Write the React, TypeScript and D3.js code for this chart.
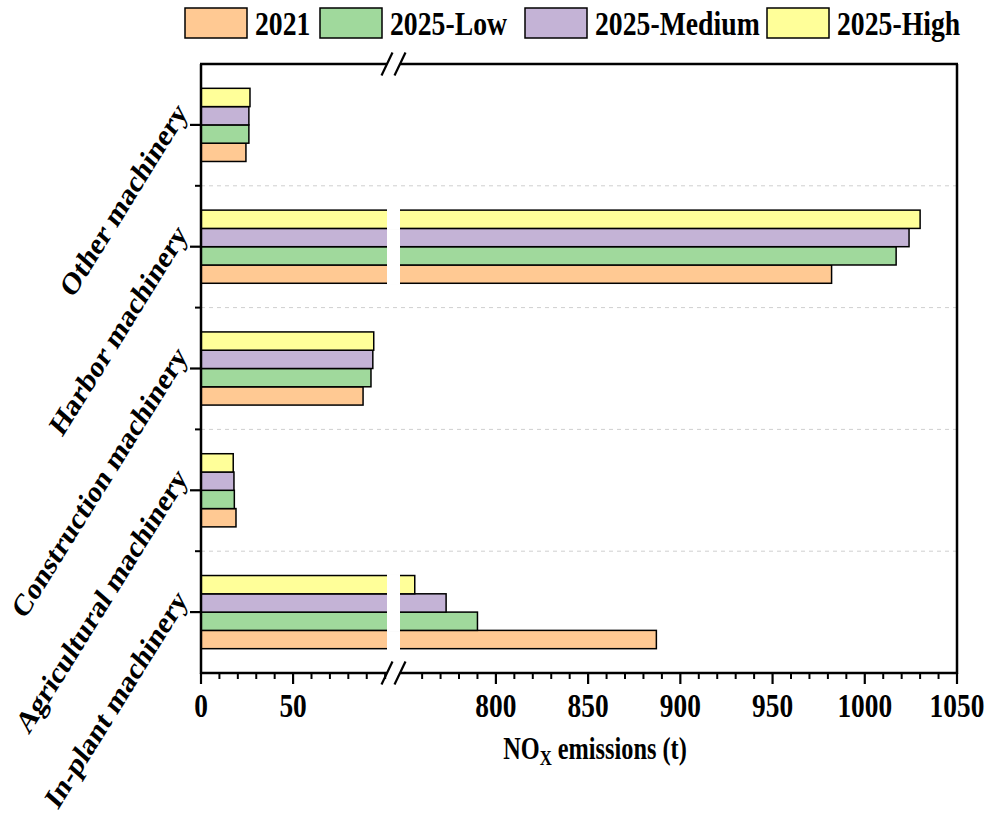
import React from 'react';
import * as d3 from 'd3';

const categories = ['In-plant machinery', 'Agricultural machinery', 'Construction machinery', 'Harbor machinery', 'Other machinery'];
const seriesNames = ['2021', '2025-Low', '2025-Medium', '2025-High'];
const v2021 = [887, 19, 88, 982, 24.4];
const vLow = [790, 18.1, 92.3, 1017, 26];
const vMedium = [773, 17.9, 93.3, 1024, 26];
const vHigh = [756, 17.5, 93.8, 1030, 26.6];
const seriesValues = [v2021, vLow, vMedium, vHigh];
const seriesColors = ['#FFC993', '#A0D99C', '#C4B3D6', '#FFFF99'];
const leftTicks = [0, 50];
const rightTicks = [800, 850, 900, 950, 1000, 1050];
const leftDomain = [0, 101];
const rightDomain = [748, 1050];

const W = 990, H = 818;
const L = 201, R = 957, T = 64, B = 673;
const GAP_L = 387, GAP_R = 400;
const FONT = '"Liberation Serif", "Times New Roman", serif';

export default function App() {
  const xl = d3.scaleLinear().domain(leftDomain).range([L, GAP_L]);
  const xr = d3.scaleLinear().domain(rightDomain).range([GAP_R, R]);
  const x = (v: number) => (v <= leftDomain[1] ? xl(v) : xr(v));

  const y = d3.scaleBand<string>().domain(categories).range([B, T]).padding(0);
  const bw = y.bandwidth();
  const inner = d3.scaleBand<string>().domain([...seriesNames].reverse()).range([0, bw]).paddingInner(0).paddingOuter(1.33);

  const leftMinor = d3.range(0, 101, 10).filter(v => !leftTicks.includes(v));
  const rightMinor = d3.range(760, 1051, 10).filter(v => !rightTicks.includes(v));

  const boundaries = categories.slice(1).map(c => (y(c) as number) + bw);

  const legendX = [185, 320, 525, 767];

  const sqText = (tx: number, ty: number, s: string, size: number, sx: number, anchor: string, key?: any) => (
    <text key={key} transform={`translate(${tx},${ty}) scale(${sx},1)`} textAnchor={anchor as any}
      fontFamily={FONT} fontWeight="bold" fontSize={size} fill="#000">{s}</text>
  );

  return (
    <svg width={W} height={H} style={{ position: 'absolute', left: 0, top: 0, background: '#fff' }}>
      <rect width={W} height={H} fill="#fff" />
      {/* gridlines */}
      {boundaries.map((by, i) => (
        <line key={'g' + i} x1={L} x2={R} y1={by} y2={by} stroke="#cfcfcf" strokeWidth={1} strokeDasharray="4,4" />
      ))}
      {/* bars */}
      {categories.map((c, ci) => (
        <g key={c}>
          {seriesNames.map((s, si) => {
            const v = seriesValues[si][ci];
            const y0 = (y(c) as number) + (inner(s) as number);
            const h = inner.bandwidth();
            return (
              <g key={s}>
                <rect x={L} y={y0} width={x(v) - L} height={h} fill={seriesColors[si]} stroke="#000" strokeWidth={1.5} />
                {v > leftDomain[1] && (
                  <rect x={GAP_L} y={y0 - 1.5} width={GAP_R - GAP_L} height={h + 3} fill="#fff" />
                )}
              </g>
            );
          })}
        </g>
      ))}
      {/* frame */}
      <line x1={L} x2={L} y1={T} y2={B + 1} stroke="#000" strokeWidth={2.5} />
      <line x1={R} x2={R} y1={T} y2={B + 1} stroke="#000" strokeWidth={2.5} />
      {[T, B].map((yy, i) => (
        <g key={'ax' + i}>
          <line x1={L - 1} x2={GAP_L} y1={yy} y2={yy} stroke="#000" strokeWidth={2.5} />
          <line x1={GAP_R} x2={R + 1} y1={yy} y2={yy} stroke="#000" strokeWidth={2.5} />
          <line x1={GAP_L - 5.5} y1={yy + 11.5} x2={GAP_L + 5.5} y2={yy - 11.5} stroke="#000" strokeWidth={2.2} />
          <line x1={GAP_R - 5.5} y1={yy + 11.5} x2={GAP_R + 5.5} y2={yy - 11.5} stroke="#000" strokeWidth={2.2} />
        </g>
      ))}
      {/* x ticks */}
      {leftTicks.map(v => <line key={'lt' + v} x1={xl(v)} x2={xl(v)} y1={B} y2={B + 11} stroke="#000" strokeWidth={2.2} />)}
      {rightTicks.map(v => <line key={'rt' + v} x1={xr(v)} x2={xr(v)} y1={B} y2={B + 11} stroke="#000" strokeWidth={2.2} />)}
      {leftMinor.map(v => <line key={'lm' + v} x1={xl(v)} x2={xl(v)} y1={B} y2={B + 6} stroke="#000" strokeWidth={2} />)}
      {rightMinor.map(v => <line key={'rm' + v} x1={xr(v)} x2={xr(v)} y1={B} y2={B + 6} stroke="#000" strokeWidth={2} />)}
      {leftTicks.map(v => sqText(xl(v), 717, String(v), 33, 0.83, 'middle', 'ltl' + v))}
      {rightTicks.map(v => sqText(xr(v), 717, String(v), 33, 0.83, 'middle', 'rtl' + v))}
      {/* y ticks */}
      {categories.map(c => {
        const cy = (y(c) as number) + bw / 2;
        return <line key={'yt' + c} x1={L - 11} x2={L} y1={cy} y2={cy} stroke="#000" strokeWidth={2.2} />;
      })}
      {boundaries.map((by, i) => <line key={'ym' + i} x1={L - 6} x2={L} y1={by} y2={by} stroke="#000" strokeWidth={2} />)}
      {/* y labels */}
      {categories.map(c => {
        const cy = (y(c) as number) + bw / 2;
        return (
          <text key={'yl' + c} transform={`translate(${181},${cy - 18}) scale(0.84,1) rotate(-53.5)`} textAnchor="end"
            dominantBaseline="central" fontFamily={FONT} fontWeight="bold" fontSize={31.5} fill="#000">{c}</text>
        );
      })}
      {/* x title */}
      <text transform={`translate(${(L + R) / 2 + 16},${759}) scale(0.76,1)`} textAnchor="middle"
        fontFamily={FONT} fontWeight="bold" fontSize={32} fill="#000">
        NO<tspan fontSize={22} dy={6}>X</tspan><tspan dy={-6}> emissions (t)</tspan>
      </text>
      {/* legend */}
      {seriesNames.map((s, i) => (
        <g key={'lg' + s}>
          <rect x={legendX[i]} y={8} width={62} height={30} fill={seriesColors[i]} stroke="#000" strokeWidth={1.5} />
          {sqText(legendX[i] + 70, 35, s, 33, 0.84, 'start')}
        </g>
      ))}
    </svg>
  );
}
